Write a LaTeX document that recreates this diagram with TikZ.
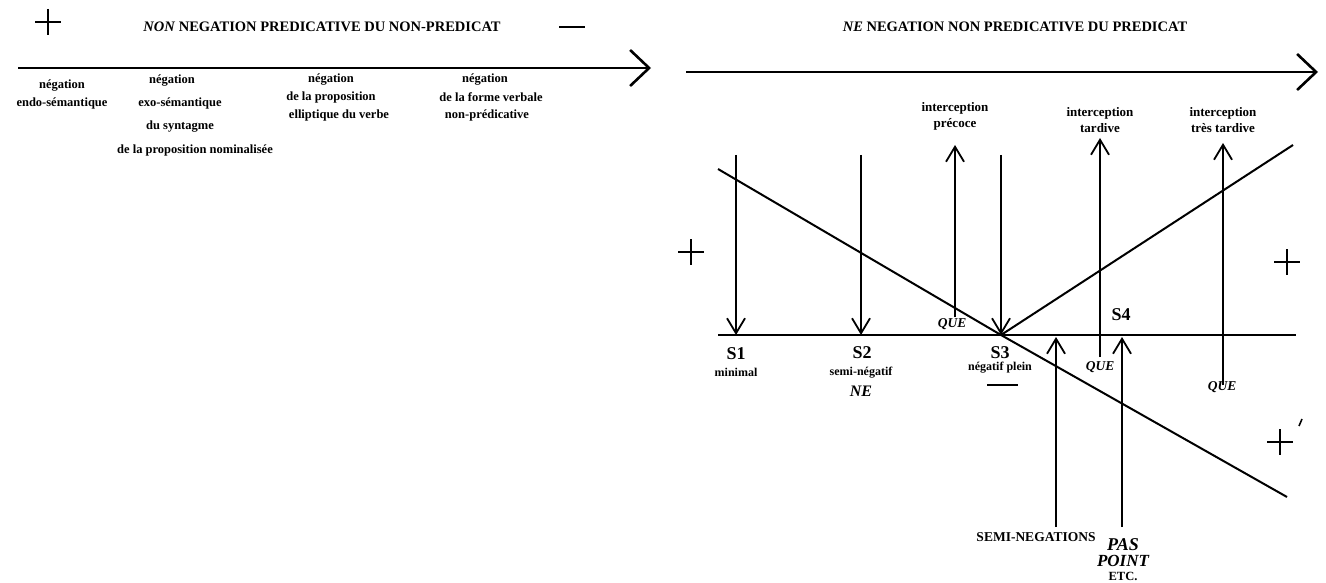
\documentclass[tikz,border=0pt]{standalone}
\usepackage{fontspec}
\setmainfont{Liberation Serif}
\usetikzlibrary{arrows.meta}
\begin{document}
\begin{tikzpicture}[x=1pt,y=-1pt,
  lbl/.style={font=\bfseries\fontsize{12.5}{14}\selectfont, inner sep=0pt},
  sml/.style={font=\bfseries\fontsize{13}{16}\selectfont, inner sep=0pt},
  tiny/.style={font=\bfseries\fontsize{12}{14}\selectfont, inner sep=0pt},
  slab/.style={font=\bfseries\fontsize{18}{19}\selectfont, inner sep=0pt},
  ttl/.style={font=\bfseries\fontsize{14.5}{16}\selectfont, inner sep=0pt},
  que/.style={font=\bfseries\itshape\fontsize{13.5}{15}\selectfont, inner sep=0pt},
  axis/.style={line width=2.6pt, -{Straight Barb[length=19pt,width=36pt,line width=2.6pt]}},
  thick line/.style={line width=2pt},
  arr/.style={line width=1.8pt, -{Straight Barb[length=15pt,width=18pt,line width=1.8pt]}},
  sign/.style={line width=2pt}]
\useasboundingbox (0,0) rectangle (1326,583);

% ---------- left panel ----------
\coordinate (la0) at (18,68);
\coordinate (la1) at (651,68);
\draw[axis] (la0) -- (la1);
\draw[sign] (35,22) -- (61,22) (48,9) -- (48,35);
\draw[sign] (559,27) -- (585,27);
\node[ttl] (t1) at (322,27) {\textit{NON} NEGATION PREDICATIVE DU NON-PREDICAT};

\node[lbl] (a1) at (62,86) {négation};
\node[lbl] (a2) at (62,103) {endo-sémantique};
\node[lbl] (b1) at (172,81) {négation};
\node[lbl] (b2) at (180,103) {exo-sémantique};
\node[lbl] (b3) at (180,127) {du syntagme};
\node[lbl] (b4) at (195,150) {de la proposition nominalisée};
\node[lbl] (c1) at (331,80) {négation};
\node[lbl] (c2) at (331,97) {de la proposition};
\node[lbl] (c3) at (339,115) {elliptique du verbe};
\node[lbl] (d1) at (485,80) {négation};
\node[lbl] (d2) at (491,97) {de la forme verbale};
\node[lbl] (d3) at (487,115) {non-prédicative};

% ---------- right panel ----------
\coordinate (ra0) at (686,72);
\coordinate (ra1) at (1318,72);
\draw[axis] (ra0) -- (ra1);
\node[ttl] (t2) at (1015,27) {\textit{NE} NEGATION NON PREDICATIVE DU PREDICAT};

% baseline
\coordinate (b0) at (718,335);
\coordinate (bE) at (1296,335);
\draw[line width=2.6pt] (b0) -- (bE);

% S points
\coordinate (S1) at (736,335);
\coordinate (S2) at (861,335);
\coordinate (S3) at (1001,335);
\coordinate (P1) at (1056,337);
\coordinate (P2) at (1122,337);

% diagonals
\coordinate (dA) at (718,169);
\coordinate (dB) at (1287,497);
\coordinate (dC) at (1293,145);
\draw[thick line] (dA) -- (S3) -- (dB);
\draw[thick line] (S3) -- (dC);

% down arrows
\coordinate (u1) at (736,155);
\coordinate (u2) at (861,155);
\coordinate (u3) at (1001,155);
\draw[arr] (u1) -- (S1);
\draw[arr] (u2) -- (S2);
\draw[arr] (u3) -- (S3);

% up arrows (interceptions)
\coordinate (q1) at (955,317);
\coordinate (q1t) at (955,145);
\coordinate (q2) at (1100,357);
\coordinate (q2t) at (1100,138);
\coordinate (q3) at (1223,385);
\coordinate (q3t) at (1223,143);
\draw[arr] (q1) -- (q1t);
\draw[arr] (q2) -- (q2t);
\draw[arr] (q3) -- (q3t);
\node[que] (Q1) at (952,324) {QUE};
\node[que] (Q2) at (1100,367) {QUE};
\node[que] (Q3) at (1222,387) {QUE};
\node[sml, align=center] (i1) at (955,116) {interception\\précoce};
\node[sml, align=center] (i2) at (1100,120) {interception\\tardive};
\node[sml, align=center] (i3) at (1223,120) {interception\\très tardive};

% up arrows from bottom
\coordinate (p1) at (1056,527);
\coordinate (p2) at (1122,527);
\draw[arr] (p1) -- (P1);
\draw[arr] (p2) -- (P2);

% labels
\node[slab] (L1) at (736,354) {S1};
\node[tiny] (m1) at (736,372) {minimal};
\node[slab] (L2) at (862,353) {S2};
\node[tiny] (m2) at (861,373) {semi-négatif};
\node[font=\bfseries\itshape\fontsize{16}{17}\selectfont, inner sep=0pt] (ne) at (861,391) {NE};
\node[slab] (L3) at (1000,353) {S3};
\node[tiny] (m3) at (1000,368) {négatif plein};
\draw[sign] (987,385) -- (1018,385);
\node[slab] (L4) at (1121,315) {S4};

\draw[sign] (678,252) -- (704,252) (691,239) -- (691,265);
\draw[sign] (1274,262) -- (1300,262) (1287,249) -- (1287,275);
\draw[sign] (1267,442) -- (1293,442) (1280,429) -- (1280,455);
\draw[line width=1.6pt] (1299,426) -- (1302,419);

\node[font=\bfseries\fontsize{13.5}{15}\selectfont, inner sep=0pt] (sn) at (1036,537) {SEMI-NEGATIONS};
\node[font=\bfseries\itshape\fontsize{18}{19}\selectfont, inner sep=0pt] (pas) at (1123,545) {PAS};
\node[font=\bfseries\itshape\fontsize{17}{18}\selectfont, inner sep=0pt] (pt) at (1123,561) {POINT};
\node[font=\bfseries\fontsize{12.5}{13}\selectfont, inner sep=0pt] (etc) at (1123,576) {ETC.};
\end{tikzpicture}
\end{document}
